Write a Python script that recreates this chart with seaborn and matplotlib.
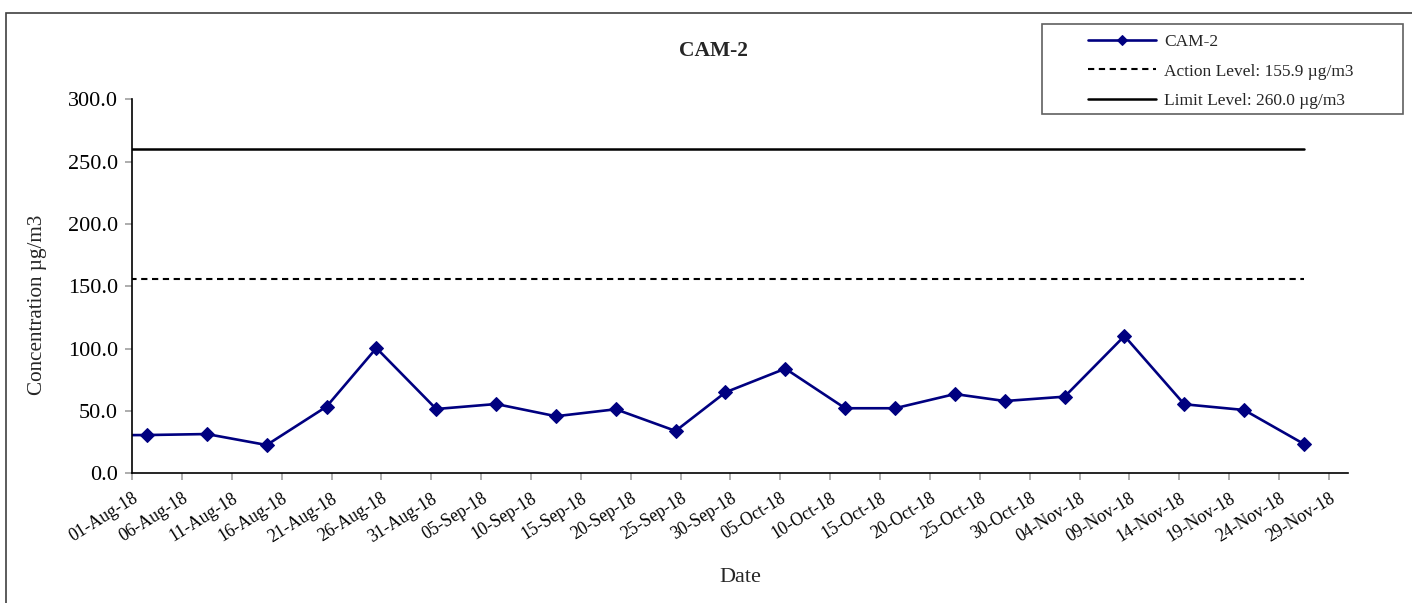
import pandas as pd
import matplotlib.pyplot as plt
import matplotlib.dates as mdates
from matplotlib.patches import Rectangle
import seaborn as sns

sns.set_style("ticks")
plt.rcParams['font.family'] = ['Liberation Serif', 'DejaVu Serif']

# sample dates (24-hr samples, the first one falls before the axis start)
dates = ["2018-07-27", "2018-08-02", "2018-08-08", "2018-08-14", "2018-08-20",
         "2018-08-25", "2018-08-31", "2018-09-06", "2018-09-12", "2018-09-18",
         "2018-09-24", "2018-09-29", "2018-10-05", "2018-10-11", "2018-10-16",
         "2018-10-22", "2018-10-27", "2018-11-02", "2018-11-08", "2018-11-14",
         "2018-11-20", "2018-11-26"]
cam2 = [30.5, 30.7, 31.5, 22.7, 53.5, 100.5, 51.6, 55.6, 45.8, 51.4, 34.0,
        65.0, 84.0, 52.2, 52.2, 63.6, 58.0, 61.5, 110.2, 55.4, 50.8, 23.5]
action_level = 155.9
limit_level = 260.0
y_ticks = [0, 50, 100, 150, 200, 250, 300]

df = pd.DataFrame({
    "date": pd.to_datetime(dates) + pd.Timedelta(hours=12),
    "cam2": cam2,
})
df["action"] = action_level
df["limit"] = limit_level

fig = plt.figure(figsize=(14.12, 6.03), dpi=100)
ax = fig.add_axes([0.0935, 0.2151, 0.8612, 0.6199])

sns.lineplot(data=df, x="date", y="cam2", ax=ax, color="#000080", lw=1.9,
             marker="D", markersize=7.5, markeredgecolor="#000080",
             label="CAM-2")
sns.lineplot(data=df, x="date", y="action", ax=ax, color="black", lw=1.5,
             linestyle=(0, (3, 2.2)), label="Action Level: 155.9 \u00b5g/m3")
sns.lineplot(data=df, x="date", y="limit", ax=ax, color="black", lw=1.8,
             label="Limit Level: 260.0 \u00b5g/m3")

ax.set_xlim(pd.Timestamp("2018-08-01"), pd.Timestamp("2018-11-30 22:00"))
ax.set_ylim(0, 300)
ax.set_yticks(y_ticks)
ax.yaxis.set_major_formatter(plt.FormatStrFormatter("%.1f"))
ticks = pd.date_range("2018-08-01", "2018-11-29", freq="5D")
ax.set_xticks(ticks)
ax.xaxis.set_major_formatter(mdates.DateFormatter("%d-%b-%y"))

ax.tick_params(axis="both", direction="out", length=5, width=1.2,
               color="#a0a0a0", labelcolor="black")
ax.tick_params(axis="y", labelsize=16, pad=5)
ax.tick_params(axis="x", labelsize=12.7, pad=7)
for lab in ax.get_xticklabels():
    lab.set_rotation(32)
    lab.set_ha("right")
    lab.set_va("top")
    lab.set_rotation_mode("anchor")

sns.despine(ax=ax)
for s in ["left", "bottom"]:
    ax.spines[s].set_color("black")
    ax.spines[s].set_linewidth(1.2)

ax.set_xlabel("Date", fontsize=16)
ax.xaxis.set_label_coords(0.5, -0.278)
ax.xaxis.label.set_va("center")
ax.set_ylabel("Concentration \u00b5g/m3", fontsize=15.2)
ax.yaxis.set_label_coords(-0.0774, 0.45)
ax.yaxis.label.set_va("center")
fig.text(713 / 1412, 1 - 51 / 603, "CAM-2", fontsize=15.5, fontweight="bold",
         ha="center", va="center")

handles, labels = ax.get_legend_handles_labels()
ax.get_legend().remove()
leg = fig.legend(handles, labels, loc="upper left",
                 bbox_to_anchor=(1088 / 1412, 1 - 34 / 603), frameon=False,
                 fontsize=12.5, handlelength=3.9, handletextpad=0.5,
                 labelspacing=0.76, borderpad=0, borderaxespad=0)
leg.legend_handles[0].set_markersize(5)
fig.patches.append(Rectangle((1042 / 1412, 1 - 114 / 603), 361 / 1412,
                             90 / 603, transform=fig.transFigure, fill=False,
                             edgecolor="#606060", lw=1.2))
fig.patches.append(Rectangle((6 / 1412, -0.2), 1.2, 1.2 + (1 - 12.5 / 603) - 1,
                             transform=fig.transFigure, fill=False,
                             edgecolor="#404040", lw=1.2, clip_on=False))

fig.savefig("out.png", dpi=100)
